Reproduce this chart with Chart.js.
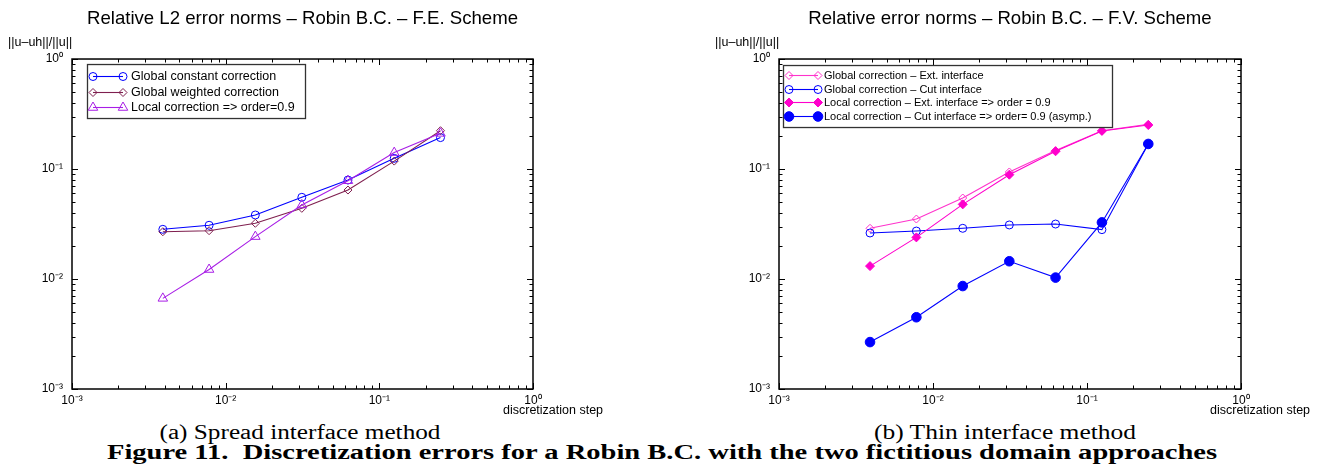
<!DOCTYPE html>
<html>
<head>
<meta charset="utf-8">
<script src="https://cdn.jsdelivr.net/npm/chart.js@4.4.1/dist/chart.umd.min.js"></script>
<style>
  body { margin: 0; width: 1324px; height: 472px; background: #fff; position: relative; overflow: hidden; font-family: 'Liberation Sans', Arial, sans-serif; }
  canvas { position: absolute; top: 0; }
  .lbl { position: absolute; font-size: 12.5px; line-height: 14px; white-space: nowrap; color: #000; }
  .cap { position: absolute; font-family: 'Liberation Serif', 'DejaVu Serif', serif; font-size: 20px; line-height: 20px; white-space: nowrap; color: #000; transform-origin: center center; }
</style>
</head>
<body>
<canvas id="chartA" width="662" height="420" style="left:0"></canvas>
<canvas id="chartB" width="662" height="420" style="left:662px"></canvas>

<div class="lbl" style="left:8px; top:35px">||u–uh||/||u||</div>
<div class="lbl" style="left:715px; top:35px">||u–uh||/||u||</div>
<div class="lbl" style="left:503px; top:403px">discretization step</div>
<div class="lbl" style="left:1210px; top:403px">discretization step</div>

<div class="cap" id="capA" style="left:300px; top:422px">(a) Spread interface method</div>
<div class="cap" id="capB" style="left:1005px; top:422px">(b) Thin interface method</div>
<div class="cap" id="capFig" style="left:662px; top:442px; font-weight:bold">Figure 11.&nbsp; Discretization errors for a Robin B.C. with the two fictitious domain approaches</div>

<script>
// discretization steps (1/256 ... 1/4)
const steps = [0.0039, 0.0078, 0.0156, 0.0313, 0.0625, 0.125, 0.25];

// (a) spread interface, F.E. scheme
const feGlobalConst = [0.0283, 0.0308, 0.0382, 0.0553, 0.0794, 0.125, 0.193];
const feGlobalWeighted = [0.0269, 0.0275, 0.0321, 0.0439, 0.0644, 0.118, 0.223];
const feLocal = [0.00667, 0.0122, 0.0243, 0.0471, 0.0783, 0.141, 0.211];

// (b) thin interface, F.V. scheme
const fvGlobalExt = [0.0289, 0.0351, 0.0545, 0.094, 0.147, 0.223, 0.255];
const fvGlobalCut = [0.0262, 0.0273, 0.0289, 0.031, 0.0316, 0.0281, 0.169];
const fvLocalExt = [0.0131, 0.0239, 0.0477, 0.0888, 0.145, 0.222, 0.251];
const fvLocalCut = [0.00267, 0.00449, 0.00863, 0.0145, 0.0103, 0.0327, 0.169];

const decadeValues = [0.001, 0.01, 0.1, 1];
const decadeLabels = ['10⁻³', '10⁻²', '10⁻¹', '10⁰'];

// axis tick positions: 1..9 in each decade
const tickValues = [];
decadeValues.slice(0, 3).forEach(d => {
  for (let k = 1; k < 10; k++) tickValues.push(Number((d * k).toPrecision(6)));
});
tickValues.push(1);

function decadeIndex(v) {
  return decadeValues.findIndex(d => Math.abs(d - v) / d < 1e-6);
}
function tickLabel(v) {
  const i = decadeIndex(v);
  return i >= 0 ? decadeLabels[i] : '';
}

function drawMarker(ctx, style, r, x, y, stroke, fill, lw) {
  ctx.beginPath();
  if (style === 'circle') {
    ctx.arc(x, y, r, 0, Math.PI * 2);
  } else if (style === 'rectRot') {
    ctx.moveTo(x, y - r); ctx.lineTo(x + r, y); ctx.lineTo(x, y + r); ctx.lineTo(x - r, y);
    ctx.closePath();
  } else {
    ctx.moveTo(x, y - r); ctx.lineTo(x + r * 0.866, y + r / 2); ctx.lineTo(x - r * 0.866, y + r / 2);
    ctx.closePath();
  }
  ctx.fillStyle = fill; ctx.fill();
  ctx.lineWidth = lw; ctx.strokeStyle = stroke; ctx.stroke();
}

// frame with inward ticks on all four sides (matlab style)
const frameTicks = {
  id: 'frameTicks',
  afterDatasetsDraw(chart) {
    const { ctx, chartArea: a } = chart;
    const sx = chart.scales.x, sy = chart.scales.y;
    ctx.save();
    ctx.strokeStyle = '#000';
    ctx.lineWidth = 1;
    ctx.beginPath();
    sx.ticks.forEach(t => {
      const px = Math.round(sx.getPixelForValue(t.value)) + 0.5;
      const len = decadeIndex(t.value) >= 0 ? 6 : 3.5;
      ctx.moveTo(px, a.bottom); ctx.lineTo(px, a.bottom - len);
      ctx.moveTo(px, a.top); ctx.lineTo(px, a.top + len);
    });
    sy.ticks.forEach(t => {
      const py = Math.round(sy.getPixelForValue(t.value)) + 0.5;
      const len = decadeIndex(t.value) >= 0 ? 6 : 3.5;
      ctx.moveTo(a.left, py); ctx.lineTo(a.left + len, py);
      ctx.moveTo(a.right, py); ctx.lineTo(a.right - len, py);
    });
    ctx.stroke();
    ctx.lineWidth = 1.5;
    ctx.strokeRect(a.left, a.top, a.right - a.left, a.bottom - a.top);
    ctx.restore();
  }
};

// boxed legend inside the plot area, line with a marker at each end
const boxLegend = {
  id: 'boxLegend',
  afterDraw(chart, args, o) {
    const { ctx, chartArea: a } = chart;
    const x0 = a.left + o.x, y0 = a.top + o.y;
    ctx.save();
    ctx.fillStyle = '#fff';
    ctx.fillRect(x0, y0, o.w, o.h);
    ctx.strokeStyle = '#333';
    ctx.lineWidth = 1.3;
    ctx.strokeRect(x0 + 0.5, y0 + 0.5, o.w, o.h);
    ctx.font = o.fontSize + "px 'Liberation Sans', Arial, sans-serif";
    ctx.textBaseline = 'middle';
    chart.data.datasets.forEach((ds, i) => {
      const y = Math.round(y0 + o.first + i * o.gap) + 0.5;
      ctx.strokeStyle = ds.borderColor;
      ctx.lineWidth = ds.borderWidth;
      ctx.beginPath();
      ctx.moveTo(x0 + o.l1, y); ctx.lineTo(x0 + o.l2, y);
      ctx.stroke();
      drawMarker(ctx, ds.pointStyle, ds.pointRadius, x0 + o.l1, y, ds.borderColor, ds.pointBackgroundColor, 1);
      drawMarker(ctx, ds.pointStyle, ds.pointRadius, x0 + o.l2, y, ds.borderColor, ds.pointBackgroundColor, 1);
      ctx.fillStyle = '#000';
      ctx.fillText(ds.label, x0 + o.tx, y);
    });
    ctx.restore();
  }
};

function series(label, values, color, style, radius, filled) {
  return {
    label: label,
    data: steps.map((s, i) => ({ x: s, y: values[i] })),
    borderColor: color,
    borderWidth: 1.1,
    pointStyle: style,
    pointRadius: radius,
    pointHoverRadius: radius,
    pointBorderWidth: 1,
    pointBorderColor: color,
    pointBackgroundColor: filled ? color : 'rgba(255,255,255,0)',
    tension: 0
  };
}

function logAxis(fit, pad) {
  return {
    type: 'logarithmic',
    min: 0.001,
    max: 1,
    afterBuildTicks: s => { s.ticks = tickValues.map(v => ({ value: v })); },
    afterFit: fit,
    grid: { display: false, drawTicks: false },
    border: { display: false },
    ticks: {
      autoSkip: false,
      maxRotation: 0,
      padding: pad,
      color: '#000',
      font: { family: "'Liberation Sans', Arial, sans-serif", size: 12 },
      callback: v => tickLabel(v)
    }
  };
}

function makeChart(id, title, datasets, yWidth, padRight, legendOpts) {
  datasets.forEach((ds, i) => { ds.order = datasets.length - 1 - i; });
  return new Chart(document.getElementById(id), {
    type: 'line',
    data: { datasets: datasets },
    options: {
      responsive: false,
      animation: false,
      layout: { padding: { left: 0, top: 0, right: padRight, bottom: 11 } },
      scales: {
        x: logAxis(s => { s.height = 20; }, 4),
        y: logAxis(s => { s.width = yWidth; }, 9)
      },
      plugins: {
        legend: { display: false },
        tooltip: { enabled: false },
        title: {
          display: true,
          text: title,
          fullSize: false,
          color: '#000',
          font: { family: "'Liberation Sans', Arial, sans-serif", size: 18.6, weight: 'normal' },
          padding: { top: 8, bottom: 28.7 }
        },
        boxLegend: legendOpts
      }
    },
    plugins: [frameTicks, boxLegend]
  });
}

makeChart('chartA', 'Relative L2 error norms – Robin B.C. – F.E. Scheme', [
  series('Global constant correction', feGlobalConst, '#0000ff', 'circle', 4, false),
  series('Global weighted correction', feGlobalWeighted, '#7f1f4f', 'rectRot', 4, false),
  series('Local correction => order=0.9', feLocal, '#a81ee6', 'triangle', 5.5, false)
], 72, 129, { x: 15, y: 5, w: 218, h: 54, first: 12, gap: 15.5, l1: 6, l2: 36, tx: 44, fontSize: 12.5 });

makeChart('chartB', 'Relative error norms – Robin B.C. – F.V. Scheme', [
  series('Global correction – Ext. interface', fvGlobalExt, '#ff33cc', 'rectRot', 4, false),
  series('Global correction – Cut interface', fvGlobalCut, '#0000ff', 'circle', 4, false),
  series('Local correction – Ext. interface => order = 0.9', fvLocalExt, '#ff00cc', 'rectRot', 4.5, true),
  series('Local correction – Cut interface => order= 0.9 (asymp.)', fvLocalCut, '#0000ff', 'circle', 4.8, true)
], 117, 83, { x: 4, y: 6, w: 329, h: 62, first: 10, gap: 13.7, l1: 6, l2: 35, tx: 41, fontSize: 11 });

// stretch the serif captions to the printed widths
function fitWidth(id, target) {
  const el = document.getElementById(id);
  const w = el.getBoundingClientRect().width;
  el.style.transform = 'translateX(-50%) scaleX(' + (target / w) + ')';
}
fitWidth('capA', 281);
fitWidth('capB', 262);
fitWidth('capFig', 1110);
</script>
</body>
</html>
